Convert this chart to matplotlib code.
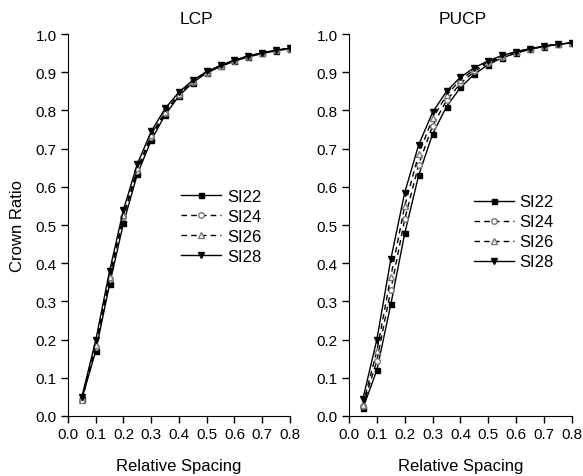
import matplotlib.pyplot as plt
import numpy as np

plt.rcParams['font.family'] = ['Liberation Sans', 'DejaVu Sans']

spacing = [0.05, 0.10, 0.15, 0.20, 0.25, 0.30, 0.35, 0.40,
           0.45, 0.50, 0.55, 0.60, 0.65, 0.70, 0.75, 0.80]

# LCP panel
lcp_si22 = [0.045, 0.170, 0.345, 0.505, 0.633, 0.722, 0.788, 0.838,
            0.873, 0.898, 0.915, 0.929, 0.940, 0.949, 0.956, 0.962]
lcp_si24 = [0.042, 0.180, 0.358, 0.520, 0.642, 0.730, 0.793, 0.841,
            0.875, 0.899, 0.916, 0.930, 0.941, 0.950, 0.957, 0.962]
lcp_si26 = [0.043, 0.185, 0.365, 0.527, 0.648, 0.735, 0.797, 0.843,
            0.876, 0.900, 0.917, 0.931, 0.942, 0.950, 0.957, 0.963]
lcp_si28 = [0.050, 0.198, 0.380, 0.540, 0.660, 0.745, 0.805, 0.848,
            0.879, 0.902, 0.918, 0.932, 0.943, 0.951, 0.958, 0.963]

# PUCP panel
pucp_si22 = [0.020, 0.120, 0.292, 0.478, 0.630, 0.738, 0.810, 0.860,
             0.895, 0.920, 0.938, 0.950, 0.960, 0.967, 0.973, 0.977]
pucp_si24 = [0.025, 0.145, 0.330, 0.515, 0.658, 0.760, 0.826, 0.871,
             0.902, 0.924, 0.940, 0.952, 0.961, 0.968, 0.973, 0.977]
pucp_si26 = [0.030, 0.170, 0.365, 0.550, 0.685, 0.779, 0.840, 0.880,
             0.907, 0.927, 0.942, 0.953, 0.962, 0.968, 0.974, 0.977]
pucp_si28 = [0.045, 0.200, 0.410, 0.585, 0.710, 0.795, 0.850, 0.887,
             0.912, 0.930, 0.944, 0.954, 0.962, 0.968, 0.973, 0.977]

series_names = ['SI22', 'SI24', 'SI26', 'SI28']
styles = [
    dict(linestyle='-', marker='s', mfc='black', mec='black', ms=3.6),
    dict(linestyle=(0, (4, 3)), marker='o', mfc='white', mec='#777777', ms=4),
    dict(linestyle=(0, (4, 3)), marker='^', mfc='white', mec='#777777', ms=4.3),
    dict(linestyle='-', marker='v', mfc='black', mec='black', ms=4.8),
]

fig = plt.figure(figsize=(5.83, 4.77), dpi=100)
ax1 = fig.add_axes([0.1166, 0.1258, 0.3808, 0.8008])
ax2 = fig.add_axes([0.5986, 0.1258, 0.3825, 0.8008])

panels = [
    (ax1, 'LCP', [lcp_si22, lcp_si24, lcp_si26, lcp_si28], 0.58, (0.51, 0.595)),
    (ax2, 'PUCP', [pucp_si22, pucp_si24, pucp_si26, pucp_si28], 0.51, (0.56, 0.58)),
]

for ax, title, data, tx, legpos in panels:
    for name, vals, st in zip(series_names, data, styles):
        ax.plot(spacing, vals, color='black', lw=1.0, label=name, **st)
    ax.set_xlim(0, 0.8)
    ax.set_ylim(0, 1.0)
    ax.set_xticks(np.arange(0, 0.81, 0.1))
    ax.set_yticks(np.arange(0, 1.01, 0.1))
    ax.xaxis.set_major_formatter(plt.FormatStrFormatter('%.1f'))
    ax.yaxis.set_major_formatter(plt.FormatStrFormatter('%.1f'))
    ax.spines['top'].set_visible(False)
    ax.spines['right'].set_visible(False)
    ax.tick_params(direction='out', length=5, width=1, labelsize=11, pad=3)
    ax.set_xlabel('Relative Spacing', fontsize=12, labelpad=12)
    ax.text(tx, 1.02, title, transform=ax.transAxes, ha='center',
            va='bottom', fontsize=12.5)
    ax.legend(loc='upper left', bbox_to_anchor=legpos, frameon=False,
              fontsize=12, handlelength=2.4, handletextpad=0.35,
              labelspacing=0.3, borderpad=0, borderaxespad=0)

ax1.set_ylabel('Crown Ratio', fontsize=12, labelpad=8)

fig.savefig('out.png', dpi=100)
